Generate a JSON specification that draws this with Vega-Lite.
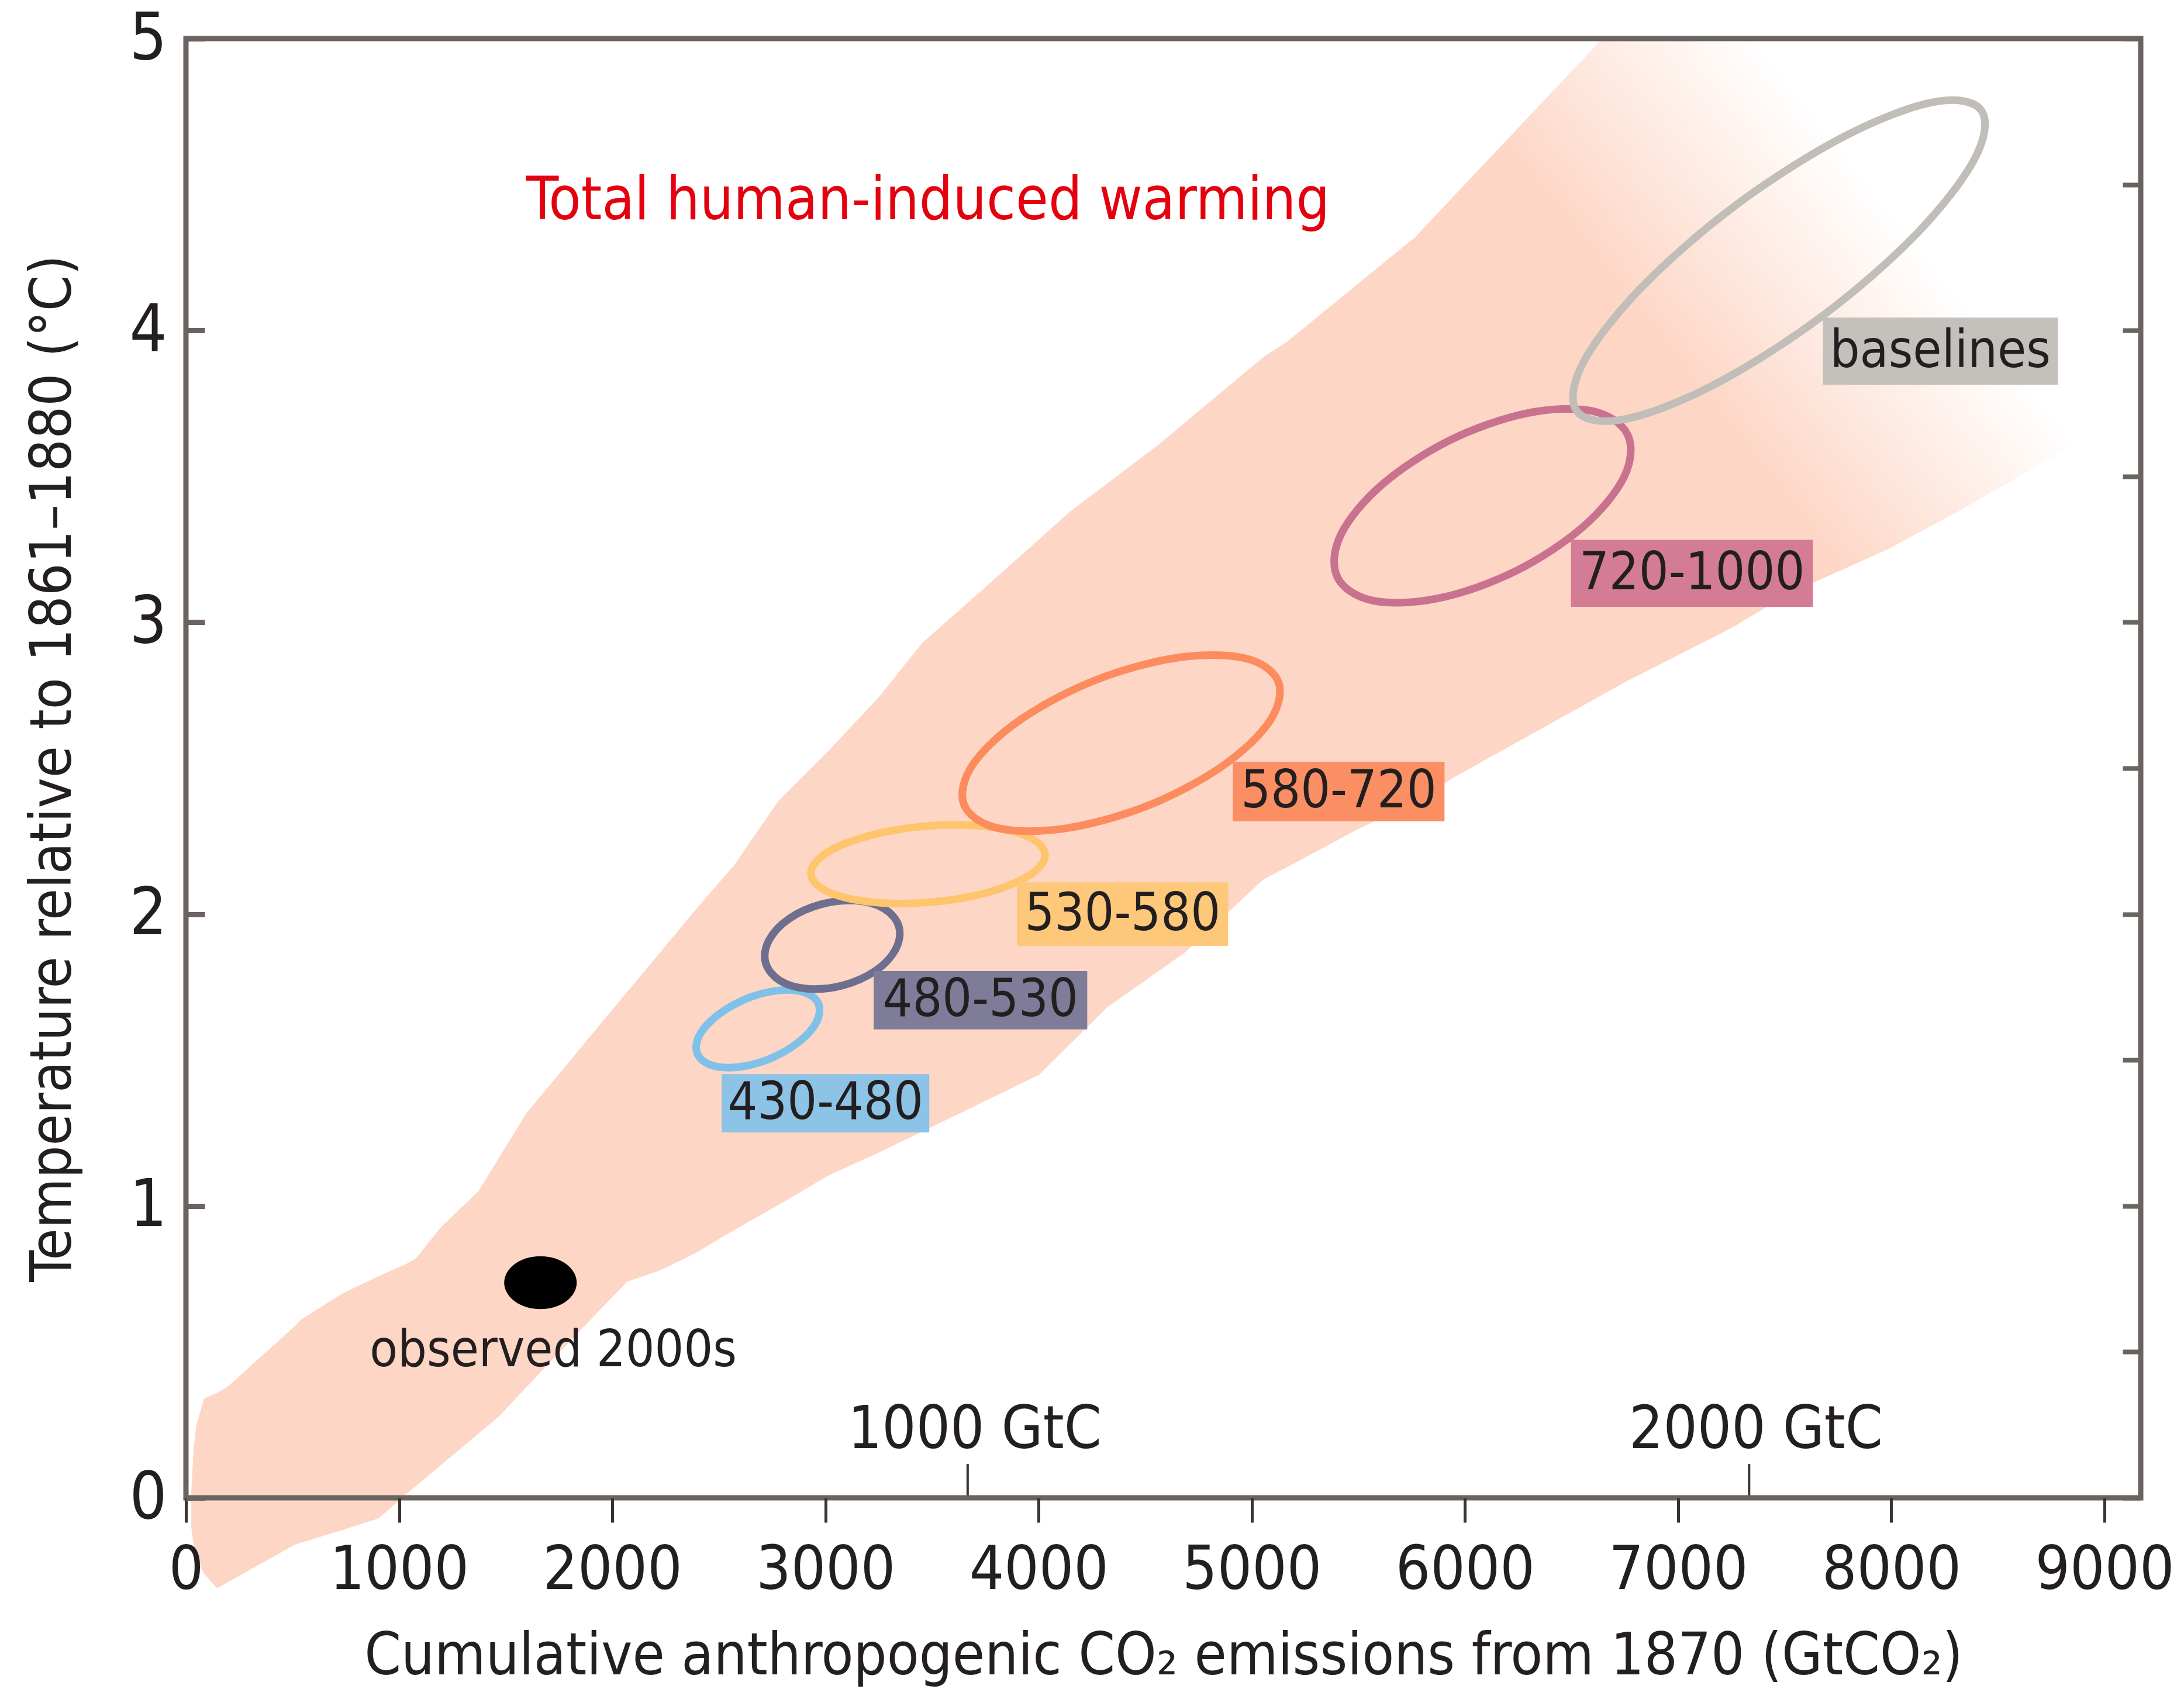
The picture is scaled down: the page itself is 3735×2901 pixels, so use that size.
{
  "$schema": "https://vega.github.io/schema/vega-lite/v6.json",
  "width": 3343,
  "height": 2496,
  "autosize": {"type": "none"},
  "padding": {"left": 318, "top": 66, "right": 74, "bottom": 339},
  "background": "white",
  "config": {
    "font": "DejaVu Sans Condensed, DejaVu Sans, sans-serif",
    "view": {"stroke": null}
  },
  "datasets": {
    "band": [
      {"x": 25, "lo": -0.10, "hi": 0.02},
      {"x": 36, "lo": -0.16, "hi": 0.17},
      {"x": 49, "lo": -0.21, "hi": 0.25},
      {"x": 85, "lo": -0.26, "hi": 0.34},
      {"x": 146, "lo": -0.31, "hi": 0.36},
      {"x": 195, "lo": -0.29, "hi": 0.38},
      {"x": 513, "lo": -0.16, "hi": 0.59},
      {"x": 538, "lo": -0.154, "hi": 0.61},
      {"x": 735, "lo": -0.11, "hi": 0.70},
      {"x": 905, "lo": -0.07, "hi": 0.76},
      {"x": 1029, "lo": 0.01, "hi": 0.80},
      {"x": 1078, "lo": 0.04, "hi": 0.82},
      {"x": 1199, "lo": 0.114, "hi": 0.93},
      {"x": 1372, "lo": 0.22, "hi": 1.05},
      {"x": 1470, "lo": 0.28, "hi": 1.167},
      {"x": 1597, "lo": 0.379, "hi": 1.318},
      {"x": 1714, "lo": 0.47, "hi": 1.421},
      {"x": 1871, "lo": 0.59, "hi": 1.559},
      {"x": 2069, "lo": 0.74, "hi": 1.733},
      {"x": 2228, "lo": 0.78, "hi": 1.872},
      {"x": 2384, "lo": 0.836, "hi": 2.009},
      {"x": 2573, "lo": 0.918, "hi": 2.169},
      {"x": 2779, "lo": 1.003, "hi": 2.388},
      {"x": 3015, "lo": 1.105, "hi": 2.56},
      {"x": 3251, "lo": 1.183, "hi": 2.744},
      {"x": 3454, "lo": 1.255, "hi": 2.929},
      {"x": 3734, "lo": 1.354, "hi": 3.11},
      {"x": 4003, "lo": 1.45, "hi": 3.285},
      {"x": 4148, "lo": 1.555, "hi": 3.38},
      {"x": 4321, "lo": 1.68, "hi": 3.475},
      {"x": 4565, "lo": 1.806, "hi": 3.61},
      {"x": 4689, "lo": 1.87, "hi": 3.686},
      {"x": 5056, "lo": 2.12, "hi": 3.91},
      {"x": 5163, "lo": 2.16, "hi": 3.96},
      {"x": 5495, "lo": 2.29, "hi": 4.158},
      {"x": 5767, "lo": 2.385, "hi": 4.32},
      {"x": 5951, "lo": 2.47, "hi": 4.463},
      {"x": 6606, "lo": 2.736, "hi": 4.97},
      {"x": 6640, "lo": 2.75, "hi": 5.0},
      {"x": 6738, "lo": 2.79, "hi": 5.0},
      {"x": 7248, "lo": 2.98, "hi": 5.0},
      {"x": 7525, "lo": 3.10, "hi": 5.0},
      {"x": 7984, "lo": 3.25, "hi": 5.0},
      {"x": 8313, "lo": 3.38, "hi": 5.0},
      {"x": 8890, "lo": 3.62, "hi": 5.0}
    ],
    "ellipses": [
      {"s": "430-480", "i": 0, "x": 2967, "y": 1.693},
      {"s": "430-480", "i": 1, "x": 2900, "y": 1.732},
      {"s": "430-480", "i": 2, "x": 2775, "y": 1.738},
      {"s": "430-480", "i": 3, "x": 2626, "y": 1.709},
      {"s": "430-480", "i": 4, "x": 2491, "y": 1.652},
      {"s": "430-480", "i": 5, "x": 2408, "y": 1.584},
      {"s": "430-480", "i": 6, "x": 2399, "y": 1.522},
      {"s": "430-480", "i": 7, "x": 2466, "y": 1.482},
      {"s": "430-480", "i": 8, "x": 2591, "y": 1.476},
      {"s": "430-480", "i": 9, "x": 2741, "y": 1.505},
      {"s": "430-480", "i": 10, "x": 2875, "y": 1.562},
      {"s": "430-480", "i": 11, "x": 2958, "y": 1.630},
      {"s": "480-530", "i": 0, "x": 3345, "y": 1.956},
      {"s": "480-530", "i": 1, "x": 3277, "y": 2.018},
      {"s": "480-530", "i": 2, "x": 3144, "y": 2.046},
      {"s": "480-530", "i": 3, "x": 2981, "y": 2.034},
      {"s": "480-530", "i": 4, "x": 2831, "y": 1.985},
      {"s": "480-530", "i": 5, "x": 2736, "y": 1.912},
      {"s": "480-530", "i": 6, "x": 2719, "y": 1.834},
      {"s": "480-530", "i": 7, "x": 2787, "y": 1.772},
      {"s": "480-530", "i": 8, "x": 2920, "y": 1.744},
      {"s": "480-530", "i": 9, "x": 3083, "y": 1.756},
      {"s": "480-530", "i": 10, "x": 3233, "y": 1.805},
      {"s": "480-530", "i": 11, "x": 3328, "y": 1.878},
      {"s": "530-580", "i": 0, "x": 4030, "y": 2.206},
      {"s": "530-580", "i": 1, "x": 3949, "y": 2.266},
      {"s": "530-580", "i": 2, "x": 3742, "y": 2.301},
      {"s": "530-580", "i": 3, "x": 3465, "y": 2.301},
      {"s": "530-580", "i": 4, "x": 3193, "y": 2.266},
      {"s": "530-580", "i": 5, "x": 2997, "y": 2.206},
      {"s": "530-580", "i": 6, "x": 2932, "y": 2.136},
      {"s": "530-580", "i": 7, "x": 3013, "y": 2.076},
      {"s": "530-580", "i": 8, "x": 3220, "y": 2.041},
      {"s": "530-580", "i": 9, "x": 3497, "y": 2.041},
      {"s": "530-580", "i": 10, "x": 3769, "y": 2.076},
      {"s": "530-580", "i": 11, "x": 3965, "y": 2.137},
      {"s": "580-720", "i": 0, "x": 5124, "y": 2.797},
      {"s": "580-720", "i": 1, "x": 4967, "y": 2.877},
      {"s": "580-720", "i": 2, "x": 4655, "y": 2.879},
      {"s": "580-720", "i": 3, "x": 4271, "y": 2.803},
      {"s": "580-720", "i": 4, "x": 3918, "y": 2.668},
      {"s": "580-720", "i": 5, "x": 3691, "y": 2.512},
      {"s": "580-720", "i": 6, "x": 3650, "y": 2.375},
      {"s": "580-720", "i": 7, "x": 3807, "y": 2.295},
      {"s": "580-720", "i": 8, "x": 4119, "y": 2.293},
      {"s": "580-720", "i": 9, "x": 4503, "y": 2.369},
      {"s": "580-720", "i": 10, "x": 4856, "y": 2.504},
      {"s": "580-720", "i": 11, "x": 5083, "y": 2.660},
      {"s": "720-1000", "i": 0, "x": 6762, "y": 3.644},
      {"s": "720-1000", "i": 1, "x": 6595, "y": 3.724},
      {"s": "720-1000", "i": 2, "x": 6290, "y": 3.716},
      {"s": "720-1000", "i": 3, "x": 5930, "y": 3.624},
      {"s": "720-1000", "i": 4, "x": 5610, "y": 3.471},
      {"s": "720-1000", "i": 5, "x": 5417, "y": 3.299},
      {"s": "720-1000", "i": 6, "x": 5402, "y": 3.154},
      {"s": "720-1000", "i": 7, "x": 5569, "y": 3.074},
      {"s": "720-1000", "i": 8, "x": 5874, "y": 3.082},
      {"s": "720-1000", "i": 9, "x": 6234, "y": 3.174},
      {"s": "720-1000", "i": 10, "x": 6554, "y": 3.327},
      {"s": "720-1000", "i": 11, "x": 6747, "y": 3.499},
      {"s": "baselines", "i": 0, "x": 8421, "y": 4.755},
      {"s": "baselines", "i": 1, "x": 8196, "y": 4.782},
      {"s": "baselines", "i": 2, "x": 7777, "y": 4.664},
      {"s": "baselines", "i": 3, "x": 7276, "y": 4.432},
      {"s": "baselines", "i": 4, "x": 6829, "y": 4.148},
      {"s": "baselines", "i": 5, "x": 6554, "y": 3.889},
      {"s": "baselines", "i": 6, "x": 6525, "y": 3.723},
      {"s": "baselines", "i": 7, "x": 6750, "y": 3.696},
      {"s": "baselines", "i": 8, "x": 7169, "y": 3.814},
      {"s": "baselines", "i": 9, "x": 7670, "y": 4.046},
      {"s": "baselines", "i": 10, "x": 8117, "y": 4.330},
      {"s": "baselines", "i": 11, "x": 8392, "y": 4.590}
    ],
    "boxes": [
      {"s": "430-480", "x": 2513, "x2": 3487, "y": 1.252, "y2": 1.452, "tx": 3000, "ty": 1.352},
      {"s": "480-530", "x": 3226, "x2": 4228, "y": 1.605, "y2": 1.805, "tx": 3727, "ty": 1.705},
      {"s": "530-580", "x": 3898, "x2": 4889, "y": 1.891, "y2": 2.109, "tx": 4394, "ty": 2.0},
      {"s": "580-720", "x": 4911, "x2": 5904, "y": 2.318, "y2": 2.522, "tx": 5408, "ty": 2.42},
      {"s": "720-1000", "x": 6497, "x2": 7632, "y": 3.053, "y2": 3.283, "tx": 7065, "ty": 3.168},
      {"s": "baselines", "x": 7679, "x2": 8782, "y": 3.814, "y2": 4.044, "tx": 8230, "ty": 3.929}
    ],
    "gtc": [
      {"x": 3667, "tx": 3700, "t": "1000 GtC"},
      {"x": 7333, "tx": 7365, "t": "2000 GtC"}
    ]
  },
  "layer": [
    {
      "data": {"name": "band"},
      "mark": {
        "type": "area",
        "clip": false,
        "color": {
          "gradient": "linear",
          "x1": 0, "y1": 1, "x2": 1.2, "y2": 0.22,
          "stops": [
            {"offset": 0, "color": "#fdd6c5"},
            {"offset": 0.76, "color": "#fdd6c5"},
            {"offset": 0.865, "color": "#ffffff"}
          ]
        }
      },
      "encoding": {
        "x": {
          "field": "x", "type": "quantitative",
          "scale": {"domain": [0, 9170], "nice": false, "zero": false},
          "axis": {
            "orient": "bottom",
            "values": [0, 1000, 2000, 3000, 4000, 5000, 6000, 7000, 8000, 9000],
            "format": "d",
            "labelFlush": false, "labelOverlap": false, "labelLimit": 0,
            "domain": false, "grid": false,
            "tickSize": 42, "tickWidth": 5, "tickColor": "#3a3435",
            "labelPadding": 31, "labelFontSize": 104, "labelColor": "#231f20",
            "title": "Cumulative anthropogenic CO₂ emissions from 1870 (GtCO₂)",
            "titleFontSize": 100, "titleFontWeight": "normal", "titleColor": "#231f20",
            "titlePadding": 46, "titleLimit": 0,
            "zindex": 1
          }
        },
        "y": {
          "field": "lo", "type": "quantitative",
          "scale": {"domain": [0, 5], "nice": false, "zero": false},
          "axis": {
            "orient": "left",
            "values": [0, 0.5, 1, 1.5, 2, 2.5, 3, 3.5, 4, 4.5, 5],
            "format": "d",
            "labelExpr": "datum.value % 1 === 0 ? datum.label : ''",
            "labelFlush": false, "labelOverlap": false, "labelLimit": 0,
            "domain": false, "grid": false,
            "tickSize": -32, "tickWidth": 9, "tickColor": "#6b6360",
            "labelPadding": 65, "labelFontSize": 112, "labelColor": "#231f20",
            "title": "Temperature relative to 1861–1880 (°C)",
            "titleFontSize": 98, "titleFontWeight": "normal", "titleColor": "#231f20",
            "titlePadding": 79, "titleLimit": 0,
            "zindex": 1
          }
        },
        "y2": {"field": "hi"}
      }
    },
    {
      "data": {"name": "gtc"},
      "mark": {"type": "rule", "strokeWidth": 4, "color": "#3a3435"},
      "encoding": {
        "x": {"field": "x", "type": "quantitative", "scale": {"domain": [0, 9170], "nice": false, "zero": false}, "axis": null},
        "y": {"datum": 0, "type": "quantitative", "scale": {"domain": [0, 5], "nice": false, "zero": false}, "axis": null},
        "y2": {"datum": 0.116}
      }
    },
    {
      "data": {"name": "gtc"},
      "mark": {"type": "text", "fontSize": 102, "color": "#231f20", "align": "center", "baseline": "alphabetic"},
      "encoding": {
        "x": {"field": "tx", "type": "quantitative", "scale": {"domain": [0, 9170], "nice": false, "zero": false}, "axis": null},
        "y": {"datum": 0.17, "type": "quantitative", "scale": {"domain": [0, 5], "nice": false, "zero": false}, "axis": null},
        "text": {"field": "t"}
      }
    },
    {
      "data": {"values": [{"x": 3481, "y": 4.381, "t": "Total human-induced warming"}]},
      "mark": {"type": "text", "fontSize": 101, "color": "#e3000f", "align": "center", "baseline": "alphabetic"},
      "encoding": {
        "x": {"field": "x", "type": "quantitative", "scale": {"domain": [0, 9170], "nice": false, "zero": false}, "axis": null},
        "y": {"field": "y", "type": "quantitative", "scale": {"domain": [0, 5], "nice": false, "zero": false}, "axis": null},
        "text": {"field": "t"}
      }
    },
    {
      "data": {"name": "ellipses"},
      "mark": {"type": "line", "interpolate": "cardinal-closed", "strokeWidth": 13, "clip": false},
      "encoding": {
        "x": {"field": "x", "type": "quantitative", "scale": {"domain": [0, 9170], "nice": false, "zero": false}, "axis": null},
        "y": {
          "field": "y", "type": "quantitative",
          "scale": {"domain": [0, 5], "nice": false, "zero": false},
          "axis": {
            "orient": "right",
            "values": [0, 0.5, 1, 1.5, 2, 2.5, 3, 3.5, 4, 4.5, 5],
            "labels": false, "domain": false, "grid": false,
            "tickSize": -31, "tickWidth": 8, "tickColor": "#6b6360",
            "title": null, "zindex": 1
          }
        },
        "stroke": {
          "field": "s", "type": "nominal",
          "scale": {
            "domain": ["430-480", "480-530", "530-580", "580-720", "720-1000", "baselines"],
            "range": ["#7fc1e9", "#6e6f8f", "#fec56d", "#fc8c5e", "#c9728f", "#c1bdb8"]
          },
          "legend": null
        },
        "order": {"field": "i", "type": "quantitative"}
      }
    },
    {
      "data": {"name": "boxes"},
      "mark": {"type": "rect"},
      "encoding": {
        "x": {"field": "x", "type": "quantitative", "scale": {"domain": [0, 9170], "nice": false, "zero": false}, "axis": null},
        "x2": {"field": "x2"},
        "y": {"field": "y", "type": "quantitative", "scale": {"domain": [0, 5], "nice": false, "zero": false}, "axis": null},
        "y2": {"field": "y2"},
        "fill": {
          "field": "s", "type": "nominal",
          "scale": {
            "domain": ["430-480", "480-530", "530-580", "580-720", "720-1000", "baselines"],
            "range": ["#8dc3e6", "#7e7c99", "#fec87a", "#fb8f63", "#d47c96", "#c4c0bb"]
          },
          "legend": null
        }
      }
    },
    {
      "data": {"name": "boxes"},
      "mark": {"type": "text", "fontSize": 89, "color": "#231f20", "align": "center", "baseline": "middle"},
      "encoding": {
        "x": {"field": "tx", "type": "quantitative", "scale": {"domain": [0, 9170], "nice": false, "zero": false}, "axis": null},
        "y": {"field": "ty", "type": "quantitative", "scale": {"domain": [0, 5], "nice": false, "zero": false}, "axis": null},
        "text": {"field": "s"}
      }
    },
    {
      "data": {"values": [{"x": 1663, "y": 0.737}]},
      "mark": {
        "type": "point", "filled": true, "color": "#000000", "opacity": 1,
        "shape": "M -1 0 A 1 0.73 0 1 1 1 0 A 1 0.73 0 1 1 -1 0 Z",
        "size": 15376
      },
      "encoding": {
        "x": {"field": "x", "type": "quantitative", "scale": {"domain": [0, 9170], "nice": false, "zero": false}, "axis": null},
        "y": {"field": "y", "type": "quantitative", "scale": {"domain": [0, 5], "nice": false, "zero": false}, "axis": null}
      }
    },
    {
      "data": {"values": [{"x": 1723, "y": 0.451, "t": "observed 2000s"}]},
      "mark": {"type": "text", "fontSize": 87, "color": "#231f20", "align": "center", "baseline": "alphabetic"},
      "encoding": {
        "x": {"field": "x", "type": "quantitative", "scale": {"domain": [0, 9170], "nice": false, "zero": false}, "axis": null},
        "y": {"field": "y", "type": "quantitative", "scale": {"domain": [0, 5], "nice": false, "zero": false}, "axis": null},
        "text": {"field": "t"}
      }
    },
    {
      "data": {"values": [{}]},
      "mark": {"type": "rect", "filled": false, "stroke": "#6b6360", "strokeWidth": 9},
      "encoding": {
        "x": {"datum": 0, "type": "quantitative", "scale": {"domain": [0, 9170], "nice": false, "zero": false}, "axis": null},
        "x2": {"datum": 9170},
        "y": {"datum": 0, "type": "quantitative", "scale": {"domain": [0, 5], "nice": false, "zero": false}, "axis": null},
        "y2": {"datum": 5}
      }
    }
  ],
  "resolve": {"axis": {"x": "independent", "y": "independent"}}
}
